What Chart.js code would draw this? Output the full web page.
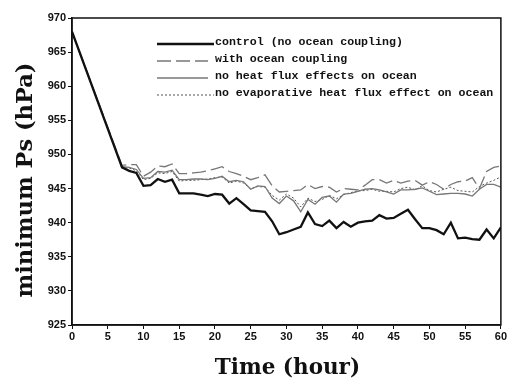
<!DOCTYPE html>
<html>
<head>
<meta charset="utf-8">
<script src="https://cdn.jsdelivr.net/npm/chart.js@4.4.1/dist/chart.umd.min.js"></script>
<style>
  html, body { margin: 0; padding: 0; background: #fff; }
  #wrap { width: 508px; height: 378px; position: relative; }
</style>
</head>
<body>
<div id="wrap"><canvas id="chart"></canvas></div>
<script>
'use strict';
// time axis (hours), all runs share the same output times
let hours = [0, 7, 8, 9, 10, 11, 12, 13, 14, 15, 16, 17, 18, 19, 20, 21, 22, 23, 24, 25, 26, 27, 28, 29, 30,
  31, 32, 33, 34, 35, 36, 37, 38, 39, 40, 41, 42, 43, 44, 45, 46, 47, 48, 49, 50, 51, 52, 53, 54, 55, 56, 57, 58, 59, 60];

// minimum surface pressure (hPa) for each experiment
let control = [968.0, 948.1, 947.6, 947.3, 945.4, 945.5, 946.4, 946.0, 946.3, 944.3, 944.3, 944.3, 944.1, 943.9, 944.2,
  944.1, 942.8, 943.6, 942.7, 941.8, 941.7, 941.6, 940.2, 938.3, 938.6, 939.0, 939.4, 941.5, 939.8, 939.5, 940.3,
  939.2, 940.1, 939.4, 940.0, 940.2, 940.3, 941.1, 940.6, 940.7, 941.3, 941.9, 940.5, 939.2, 939.2, 938.9, 938.3,
  940.0, 937.7, 937.8, 937.6, 937.5, 939.0, 937.7, 939.3];
let coupled = [968.0, 948.4, 948.5, 948.5, 946.8, 947.4, 948.3, 948.2, 948.6, 947.2, 947.2, 947.3, 947.4, 947.6, 947.9,
  948.2, 947.5, 947.2, 946.8, 946.3, 946.6, 947.0, 945.4, 944.5, 944.6, 944.7, 944.8, 945.6, 945.0, 945.3, 945.2,
  944.5, 945.0, 944.9, 944.8, 945.5, 946.3, 946.3, 945.8, 946.2, 945.8, 946.1, 946.2, 945.5, 946.0, 945.6, 944.9,
  945.6, 946.0, 946.1, 946.6, 945.0, 947.5, 948.1, 948.3];
let noHeatFlux = [968.0, 948.2, 948.1, 947.8, 946.5, 946.6, 947.5, 947.4, 947.7, 946.3, 946.3, 946.4, 946.4, 946.3, 946.5,
  946.8, 946.0, 946.2, 946.0, 944.9, 945.4, 945.3, 943.6, 942.8, 943.9, 943.2, 941.6, 943.4, 942.7, 943.7, 943.9,
  943.0, 944.2, 944.3, 944.6, 944.9, 945.0, 944.8, 944.5, 944.2, 944.8, 944.8, 944.9, 945.1, 944.6, 944.1, 944.2,
  944.3, 944.3, 944.2, 943.9, 944.9, 945.6, 945.6, 945.2];
let noEvap = [968.0, 948.1, 948.0, 947.6, 946.3, 946.5, 947.3, 947.2, 947.5, 946.1, 946.2, 946.2, 946.3, 946.4, 946.6,
  946.7, 945.8, 946.1, 945.8, 945.0, 945.3, 945.2, 944.0, 943.3, 944.2, 943.6, 942.3, 943.6, 943.1, 943.4, 944.0,
  943.5, 944.1, 944.4, 944.7, 944.7, 944.9, 944.6, 944.6, 944.5, 945.0, 945.2, 944.8, 945.4, 944.7, 944.5, 944.9,
  945.2, 944.7, 944.6, 944.5, 945.3, 945.8, 946.2, 946.7];

let seriesNames = ['control (no ocean coupling)', 'with ocean coupling', 'no heat flux effects on ocean',
  'no evaporative heat flux effect on ocean'];
let xTicks = [0, 5, 10, 15, 20, 25, 30, 35, 40, 45, 50, 55, 60];
let yTicks = [925, 930, 935, 940, 945, 950, 955, 960, 965, 970];
let xTitle = 'Time (hour)';
let yTitle = 'minimum Ps (hPa)';

// pair up the times with the values for a linear x axis
function toPoints(values) {
  let pts = [];
  for (let i = 0; i < hours.length; i++) {
    pts.push({ x: hours[i], y: values[i] });
  }
  return pts;
}

let styles = [
  { color: '#111', width: 2.3, dash: [] },
  { color: '#777', width: 1.3, dash: [14, 5] },
  { color: '#777', width: 1.3, dash: [] },
  { color: '#555', width: 1, dash: [2, 2] }
];
let allValues = [control, coupled, noHeatFlux, noEvap];
let datasets = [];
for (let i = 0; i < allValues.length; i++) {
  datasets.push({
    label: seriesNames[i],
    data: toPoints(allValues[i]),
    borderColor: styles[i].color,
    borderWidth: styles[i].width,
    borderDash: styles[i].dash,
    pointRadius: 0,
    tension: 0,
    fill: false
  });
}

// box round the plot, the legend inside the plot area and the two axis titles
let framePlugin = {
  id: 'frame',
  afterDatasetsDraw(chart) {
    let ctx = chart.ctx;
    let a = chart.chartArea;
    ctx.save();
    ctx.strokeStyle = '#111';
    ctx.lineWidth = 1.5;
    ctx.strokeRect(a.left, a.top, a.right - a.left, a.bottom - a.top);
    ctx.font = 'bold 11.6px "Liberation Mono"';
    ctx.fillStyle = '#111';
    ctx.textBaseline = 'middle';
    let rowY = [42, 59, 76, 93];
    let lineEnd = [214, 208, 208, 214];
    for (let i = 0; i < seriesNames.length; i++) {
      ctx.strokeStyle = styles[i].color;
      ctx.lineWidth = styles[i].width;
      ctx.setLineDash(styles[i].dash);
      ctx.beginPath();
      ctx.moveTo(157, rowY[i] + 2);
      ctx.lineTo(lineEnd[i], rowY[i] + 2);
      ctx.stroke();
      ctx.setLineDash([]);
      ctx.fillText(seriesNames[i], 215, rowY[i]);
    }
    // axis titles
    ctx.textAlign = 'center';
    ctx.textBaseline = 'alphabetic';
    ctx.font = 'bold 21.5px "DejaVu Serif"';
    ctx.fillText(xTitle, (a.left + a.right) / 2 + 1, 374);
    ctx.font = 'bold 22.5px "DejaVu Serif"';
    ctx.translate(32, 180);
    ctx.rotate(-Math.PI / 2);
    ctx.fillText(yTitle, 0, 0);
    ctx.restore();
  }
};

let tickFont = { family: '"Liberation Sans"', size: 11, weight: 'bold' };

new Chart(document.getElementById('chart'), {
  type: 'line',
  data: { datasets: datasets },
  plugins: [framePlugin],
  options: {
    responsive: true,
    maintainAspectRatio: false,
    animation: false,
    layout: { padding: { top: 18, right: 4, left: 0, bottom: 0 } },
    plugins: { legend: { display: false }, tooltip: { enabled: false } },
    scales: {
      x: {
        type: 'linear',
        min: 0,
        max: 60,
        afterBuildTicks: (scale) => { scale.ticks = xTicks.map(v => ({ value: v })); },
        afterFit: (scale) => { scale.height = 53; },
        grid: { drawOnChartArea: false, drawTicks: true, tickLength: 4, color: '#111' },
        border: { display: true, color: '#111', width: 1.5 },
        ticks: { color: '#111', font: tickFont, padding: 1, maxRotation: 0 }
      },
      y: {
        min: 925,
        max: 970,
        afterBuildTicks: (scale) => { scale.ticks = yTicks.map(v => ({ value: v })); },
        afterFit: (scale) => { scale.width = 72; },
        grid: { drawOnChartArea: false, drawTicks: true, tickLength: 4, color: '#111' },
        border: { display: true, color: '#111', width: 1.5 },
        ticks: { color: '#111', font: tickFont, padding: 2 }
      }
    }
  }
});
</script>
</body>
</html>
